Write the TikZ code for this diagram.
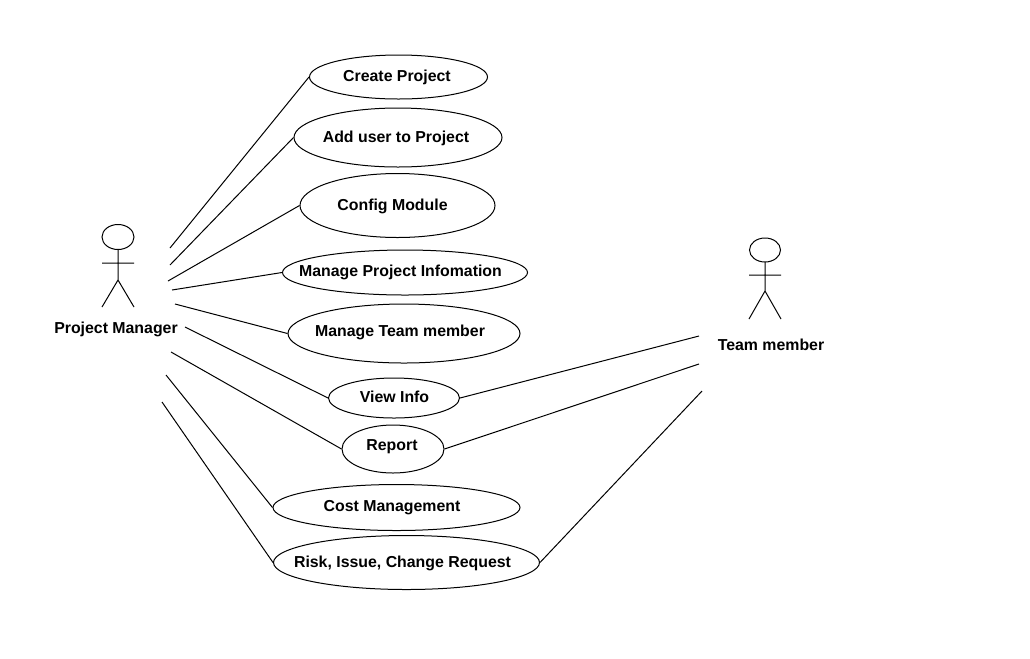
\documentclass[tikz,border=0pt]{standalone}
\usepackage{fontspec}
\setmainfont{Liberation Sans}
\usetikzlibrary{shapes.geometric}
\tikzset{
  usecase/.style 2 args={ellipse,draw,inner sep=0pt,minimum width=#1*0.75pt,minimum height=#2*0.75pt},
  casetext/.style 2 args={inner sep=0pt,xshift=#1*0.75pt,yshift=-#2*0.75pt,font=\fontsize{11.9}{14}\selectfont\bfseries},
  actorname/.style={inner sep=0pt,font=\fontsize{11.9}{14}\selectfont\bfseries},
}
\begin{document}
\begin{tikzpicture}[x=0.75pt,y=-0.75pt,line width=0.75pt]
  \fill[white] (0,0) rectangle (1030,658);
  \useasboundingbox (0,0) rectangle (1030,658);
  % use cases
  \node[usecase={178}{44},label={[casetext={-1.5}{0}]center:Create Project}] (create) at (398.5,77) {};
  \node[usecase={208}{59},label={[casetext={-2}{1}]center:Add user to Project}] (adduser) at (398,137.5) {};
  \node[usecase={195}{64},label={[casetext={-5}{1}]center:Config Module}] (config) at (397.5,205.5) {};
  \node[usecase={245}{45},label={[casetext={-4.5}{0}]center:Manage Project Infomation}] (projinfo) at (405,272.5) {};
  \node[usecase={232}{59},label={[casetext={-4}{-1}]center:Manage Team member}] (teammem) at (404,333.5) {};
  \node[usecase={131}{40},label={[casetext={0.5}{-1}]center:View Info}] (viewinfo) at (394,398) {};
  \node[usecase={102}{48},label={[casetext={-1}{-2}]center:Report}] (report) at (393,449) {};
  \node[usecase={247}{46},label={[casetext={-4.5}{0}]center:Cost Management}] (cost) at (396.5,507.5) {};
  \node[usecase={266}{54},label={[casetext={-4}{1}]center:{Risk, Issue, Change Request}}] (risk) at (406.5,562.5) {};
  % actors
  \draw (118,237) ellipse (16 and 12.5);
  \draw (118,249.5) -- (118,280) (102,263) -- (134,263) (102,307) -- (118,280) -- (134,307);
  \draw (765,250) ellipse (15.5 and 12);
  \draw (765,262) -- (765,291) (749,275) -- (781,275) (749,319) -- (765,291) -- (781,319);
  \node[actorname] (manager) at (116,329) {Project Manager};
  \node[actorname] (member) at (771,345) {Team member};
  % free ends of the connectors
  \coordinate (m1) at (170,248);
  \coordinate (m2) at (170,265);
  \coordinate (m3) at (168,281);
  \coordinate (m4) at (172,290);
  \coordinate (m5) at (175,304);
  \coordinate (m6) at (185,327);
  \coordinate (m7) at (171,352);
  \coordinate (m8) at (166,375);
  \coordinate (m9) at (162,402);
  \coordinate (t1) at (699,336);
  \coordinate (t2) at (699,364);
  \coordinate (t3) at (702,391);
  \draw (m1) -- (create.west);
  \draw (m2) -- (adduser.west);
  \draw (m3) -- (config.west);
  \draw (m4) -- (projinfo.west);
  \draw (m5) -- (teammem.west);
  \draw (m6) -- (viewinfo.west);
  \draw (m7) -- (report.west);
  \draw (m8) -- (cost.west);
  \draw (m9) -- (risk.west);
  \draw (t1) -- (viewinfo.east);
  \draw (t2) -- (report.east);
  \draw (t3) -- (risk.east);
\end{tikzpicture}
\end{document}
